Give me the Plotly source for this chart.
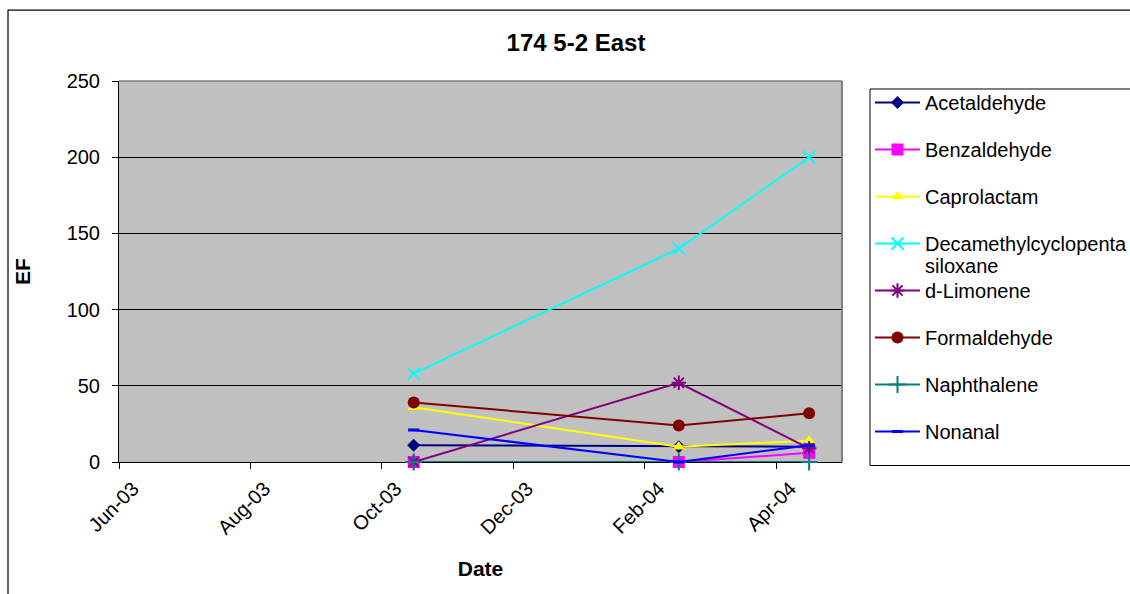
import datetime as dt
import calendar
import plotly.graph_objects as go

# Sampling dates and emission factors per compound
sample_dates = ["2003-10-16", "2004-02-16", "2004-04-16"]

acetaldehyde = [11, 10, 10]
benzaldehyde = [0, 0, 6]
caprolactam = [36, 10, 14]
decamethylcyclopentasiloxane = [58, 140, 200]
d_limonene = [0, 52, 9]
formaldehyde = [39, 24, 32]
naphthalene = [0, 0, 0]
nonanal = [21, 0, 11]

tick_labels = ["Jun-03", "Aug-03", "Oct-03", "Dec-03", "Feb-04", "Apr-04"]

# Month-based time axis starting at June 2003 (each month has equal width)
AXIS_START = (2003, 6)
AXIS_MONTHS = 11


def month_position(date_str):
    d = dt.date.fromisoformat(date_str)
    months = (d.year - AXIS_START[0]) * 12 + (d.month - AXIS_START[1])
    return months + (d.day - 1) / calendar.monthrange(d.year, d.month)[1]


def label_position(label):
    d = dt.datetime.strptime("01-" + label, "%d-%b-%y").date()
    return (d.year - AXIS_START[0]) * 12 + (d.month - AXIS_START[1])


x_vals = [month_position(s) for s in sample_dates]
tick_vals = [label_position(t) for t in tick_labels]

FONT = "Liberation Sans, Arial, sans-serif"

series = [
    ("Acetaldehyde", acetaldehyde, "#000080", dict(symbol="diamond", size=10)),
    ("Benzaldehyde", benzaldehyde, "#FF00FF", dict(symbol="square", size=12)),
    ("Caprolactam", caprolactam, "#FFFF00", dict(symbol="triangle-up", size=11)),
    ("Decamethylcyclopenta", decamethylcyclopentasiloxane, "#00FFFF",
     dict(symbol="x-thin", size=12, line=dict(width=2, color="#00FFFF"))),
    ("d-Limonene", d_limonene, "#800080",
     dict(symbol="asterisk", size=12, line=dict(width=2, color="#800080"))),
    ("Formaldehyde", formaldehyde, "#800000", dict(symbol="circle", size=12)),
    ("Naphthalene", naphthalene, "#008080",
     dict(symbol="cross-thin", size=12, line=dict(width=2, color="#008080"))),
    ("Nonanal", nonanal, "#0000FF",
     dict(symbol="line-ew", size=8, line=dict(width=3, color="#0000FF"))),
]

fig = go.Figure()
for i, (name, vals, color, marker) in enumerate(series):
    marker = dict(marker)
    marker.setdefault("color", color)
    fig.add_trace(go.Scatter(
        x=x_vals, y=vals, name=name, mode="lines+markers",
        line=dict(color=color, width=2), marker=marker,
        legendgroup=f"g{i}", cliponaxis=False,
    ))

# paper coordinates of a pixel position inside the figure
PLOT_L, PLOT_R, PLOT_T, PLOT_B = 119, 842, 81, 462.5


def px_x(px):
    return (px - PLOT_L) / (PLOT_R - PLOT_L)


def px_y(py):
    return (PLOT_B - py) / (PLOT_B - PLOT_T)


# plot-area borders on top and right (grey), outer chart frame (black)
fig.add_shape(type="line", xref="paper", yref="paper", x0=0, x1=1, y0=1, y1=1,
              line=dict(color="#808080", width=1.5), layer="above")
fig.add_shape(type="line", xref="paper", yref="paper", x0=1, x1=1, y0=0, y1=1,
              line=dict(color="#808080", width=2), layer="above")
fig.add_shape(type="rect", xref="paper", yref="paper",
              x0=px_x(8), x1=px_x(1300), y0=px_y(700), y1=px_y(10),
              line=dict(color="#000000", width=1.2), layer="above")
# legend frame
fig.add_shape(type="rect", xref="paper", yref="paper",
              x0=px_x(870), x1=px_x(1300), y0=px_y(466), y1=px_y(89),
              line=dict(color="#000000", width=1), layer="above")

# the long siloxane label wraps onto a second line in the legend
fig.add_annotation(text="siloxane", xref="paper", yref="paper",
                   x=px_x(923), y=px_y(266), xanchor="left", yanchor="middle",
                   showarrow=False, font=dict(size=20, family=FONT))

fig.update_layout(
    width=1130, height=594,
    margin=dict(l=PLOT_L, r=1130 - PLOT_R, t=PLOT_T, b=594 - 462, autoexpand=False),
    paper_bgcolor="white", plot_bgcolor="#C0C0C0",
    font=dict(family=FONT, size=20, color="black"),
    title=dict(text="<b>174 5-2 East</b>", font=dict(size=24, family=FONT),
               x=px_x(576), xref="paper", xanchor="center",
               y=1 - 43 / 594, yref="container", yanchor="middle"),
    showlegend=True,
    legend=dict(x=px_x(870), xanchor="left", y=px_y(83), yanchor="top",
                bgcolor="rgba(0,0,0,0)", borderwidth=0,
                font=dict(size=20, family=FONT), traceorder="grouped",
                tracegroupgap=18, valign="top", itemwidth=45),
    xaxis=dict(range=[0, AXIS_MONTHS], tickvals=tick_vals, ticktext=tick_labels,
               tickangle=-45, ticks="outside", ticklen=6, tickcolor="black",
               showline=True, linecolor="black", linewidth=1,
               showgrid=False, zeroline=False, layer="below traces",
               title=dict(text="<b>Date</b>", font=dict(size=21), standoff=23),
               ticklabelshift=14, fixedrange=True),
    yaxis=dict(range=[0, 250], dtick=50, ticks="outside", ticklen=6,
               tickcolor="black", showline=True, linecolor="black", linewidth=1,
               showgrid=True, gridcolor="black", gridwidth=1, zeroline=False,
               layer="below traces",
               title=dict(text="<b>EF</b>", font=dict(size=21), standoff=30),
               ticklabelstandoff=8, fixedrange=True),
)

fig.write_html("out.html")
